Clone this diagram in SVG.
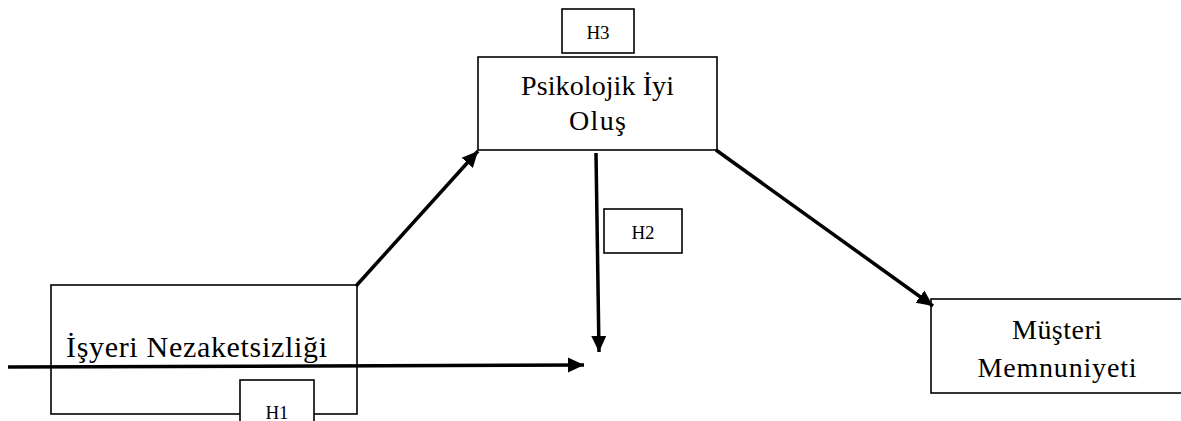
<svg xmlns="http://www.w3.org/2000/svg" width="1181" height="421" viewBox="0 0 1181 421">
<style>
.box{fill:#fff;stroke:#000;stroke-width:1.6}
.t{font-family:"Liberation Serif","Times New Roman",serif;fill:#000;text-anchor:middle}
.big{font-size:28px}
.h{font-size:19px}
.arr{stroke:#000;stroke-width:3.5;fill:none;marker-end:url(#ah)}
</style>
<defs>
<marker id="ah" markerUnits="userSpaceOnUse" markerWidth="20" markerHeight="20" viewBox="0 0 20 20" refX="16" refY="10" orient="auto">
<path d="M0,2.5 L16,10 L0,17.5 z" fill="#000"/>
</marker>
</defs>
<g id="node-h3"><rect class="box" x="562" y="9" width="72" height="44"/><text class="t h" x="598" y="39">H3</text></g>
<g id="node-psikolojik"><rect class="box" x="478" y="57" width="239" height="93"/><text class="t big" x="597.5" y="95" textLength="153" lengthAdjust="spacing">Psikolojik İyi</text><text class="t big" x="597.5" y="130" textLength="57" lengthAdjust="spacing">Oluş</text></g>
<g id="node-isyeri"><rect class="box" x="51" y="285" width="306" height="129"/><text class="t" style="font-size:30px" x="196.5" y="357" textLength="261" lengthAdjust="spacing">İşyeri Nezaketsizliği</text></g>
<g id="node-h1"><rect class="box" x="240" y="380" width="74" height="60"/><text class="t h" x="277" y="419">H1</text></g>
<g id="node-h2"><rect class="box" x="604" y="209" width="78" height="44"/><text class="t h" x="643" y="239">H2</text></g>
<g id="node-musteri"><rect class="box" x="931" y="299" width="270" height="94"/><text class="t big" x="1057" y="339" textLength="90" lengthAdjust="spacing">Müşteri</text><text class="t big" x="1057" y="377" textLength="159" lengthAdjust="spacing">Memnuniyeti</text></g>
<g id="connectors">
<line class="arr" x1="356" y1="286" x2="478" y2="151"/>
<line class="arr" x1="716" y1="150" x2="933" y2="306"/>
<line class="arr" x1="596" y1="153" x2="599" y2="352"/>
<line class="arr" x1="8" y1="367" x2="584" y2="365"/>
</g>
</svg>
